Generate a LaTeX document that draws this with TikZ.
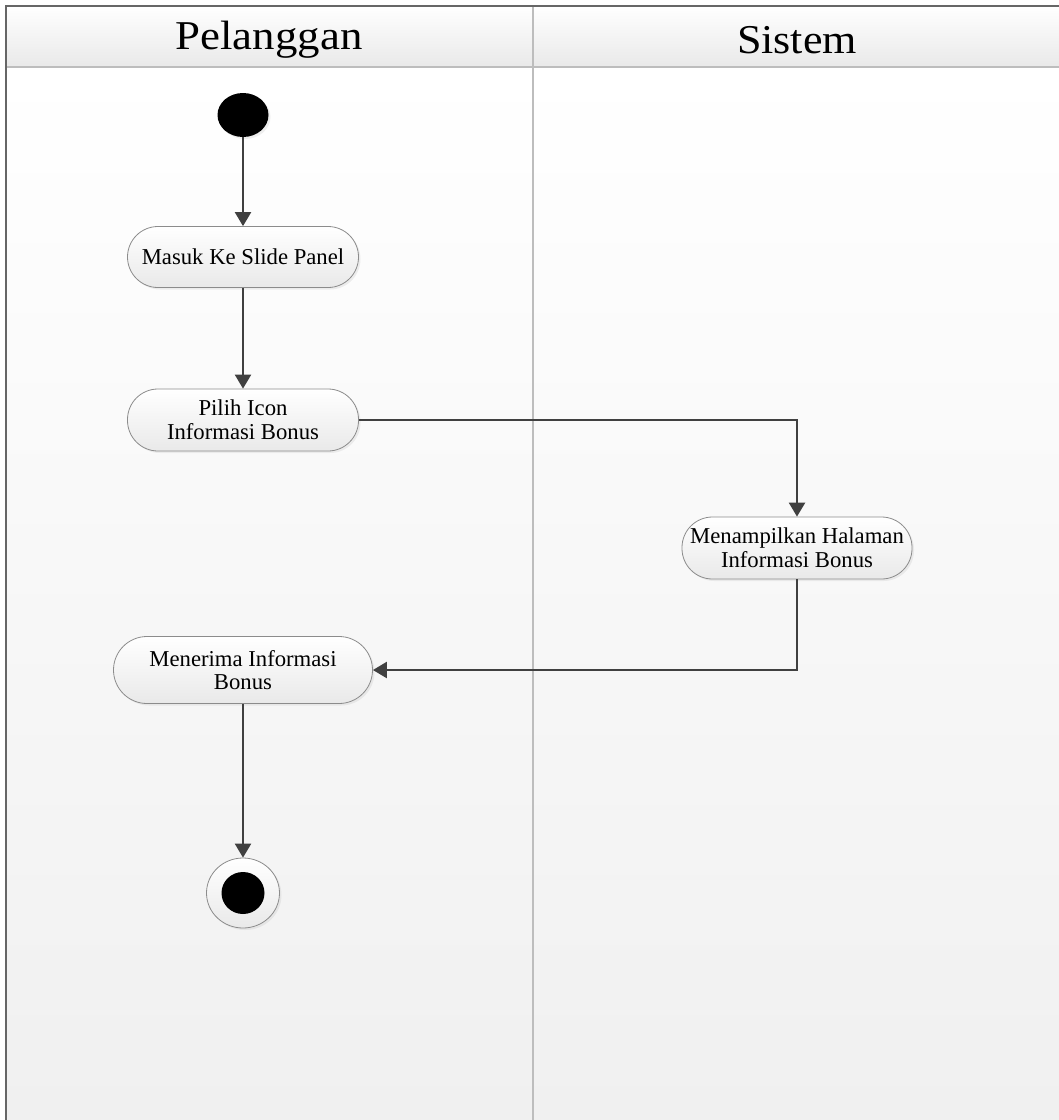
\documentclass[tikz,border=0pt]{standalone}
\usepackage{fontspec}
\setmainfont{Liberation Serif}
\usetikzlibrary{arrows.meta,shadows,shapes.geometric}

\definecolor{wire}{HTML}{404040}
\definecolor{rim}{HTML}{8C8C8C}
\definecolor{lanebot}{HTML}{F0F0F0}
\definecolor{headbot}{HTML}{E9E9E9}
\definecolor{divider}{HTML}{BDBDBD}

\tikzset{
  lanetitle/.style={font=\fontsize{39}{39}\selectfont, inner sep=0pt},
  action/.style={rectangle, rounded corners=30.5pt, draw=rim, line width=0.8pt,
    top color=white, bottom color=headbot, align=center,
    font=\fontsize{22.7}{23.6}\selectfont, inner sep=0pt,
    drop shadow={opacity=0.12, shadow xshift=2pt, shadow yshift=-2pt}},
  flow/.style={draw=wire, line width=2.4pt, -{Triangle[length=14pt,width=16pt]}},
}

\begin{document}
\begin{tikzpicture}[x=1pt, y=-1pt]
  \useasboundingbox (0,0) rectangle (1059,1120);

  % swimlane body and header
  \shade[top color=white, bottom color=lanebot] (6,67) rectangle (1059,1120);
  \shade[top color=white, bottom color=headbot] (6,6) rectangle (1059,67);
  \draw[divider, line width=1.6pt] (6,67) -- (1059,67);
  \draw[divider, line width=1.8pt] (533,6) -- (533,1120);
  \draw[wire!80, line width=1.4pt] (6,1120) -- (6,6) -- (1059,6);

  \node[lanetitle] (laneA) at (269,40) {\scalebox{1.15}[1.05]{Pelanggan}};
  \node[lanetitle] (laneB) at (797,40) {\scalebox{1.13}[1.05]{Sistem}};

  % start node
  \node[ellipse, fill=black, minimum width=51pt, minimum height=44pt, inner sep=0pt,
        drop shadow={opacity=0.12, shadow xshift=2pt, shadow yshift=-2pt}] (start) at (243,115) {};

  % actions
  \node[action, minimum width=231pt, minimum height=61pt] (n1) at (243,257) {Masuk Ke Slide Panel};
  \node[action, minimum width=231pt, minimum height=62pt] (n2) at (243,420) {Pilih Icon\\Informasi Bonus};
  \node[action, minimum width=230pt, minimum height=62pt] (n3) at (797,548) {Menampilkan Halaman\\Informasi Bonus};
  \node[action, minimum width=259pt, minimum height=67pt, rounded corners=33.5pt] (n4) at (243,670) {Menerima Informasi\\Bonus};

  % final node
  \node[ellipse, draw=rim, line width=0.8pt, top color=white, bottom color=headbot,
        minimum width=73pt, minimum height=70pt, inner sep=0pt,
        drop shadow={opacity=0.12, shadow xshift=2pt, shadow yshift=-2pt}] (end) at (243,893) {};
  \fill[black] (end.center) ellipse [x radius=21.5pt, y radius=21pt];

  % flows
  \draw[flow] (start) -- (n1);
  \draw[flow] (n1) -- (n2);
  \draw[flow] (n2.east) -| (n3.north);
  \draw[flow] (n3.south) |- (n4.east);
  \draw[flow] (n4) -- (end);
\end{tikzpicture}
\end{document}
